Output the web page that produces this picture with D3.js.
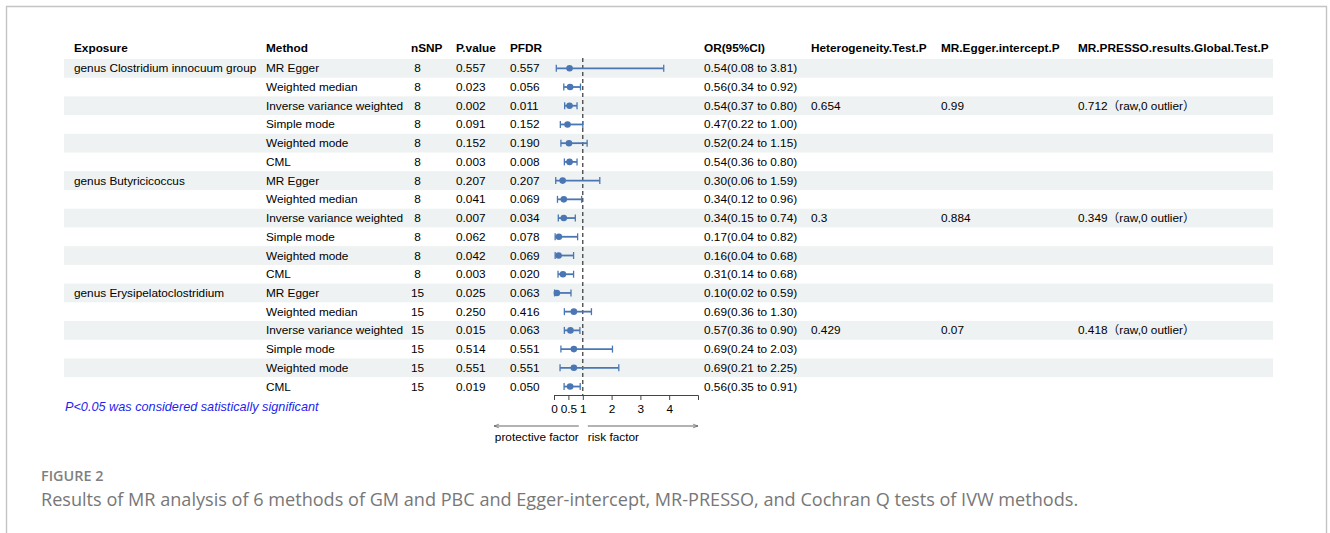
<!DOCTYPE html>
<html>
<head>
<meta charset="utf-8">
<script src="https://cdn.jsdelivr.net/npm/d3@7"></script>
<style>
  body { margin: 0; background: #fff; }
  svg text { font-family: "Liberation Sans", Arial, "Noto Sans CJK SC", sans-serif; white-space: pre; }
</style>
</head>
<body>
<svg id="chart" width="1330" height="533"></svg>
<script>
// data
const exposures = ["genus Clostridium innocuum group", "genus Butyricicoccus", "genus Erysipelatoclostridium"];
const methods = ["MR Egger", "Weighted median", "Inverse variance weighted", "Simple mode", "Weighted mode", "CML"];
const nsnp = [8, 8, 8, 8, 8, 8, 8, 8, 8, 8, 8, 8, 15, 15, 15, 15, 15, 15];
const pValue = ["0.557", "0.023", "0.002", "0.091", "0.152", "0.003",
                "0.207", "0.041", "0.007", "0.062", "0.042", "0.003",
                "0.025", "0.250", "0.015", "0.514", "0.551", "0.019"];
const pFdr = ["0.557", "0.056", "0.011", "0.152", "0.190", "0.008",
              "0.207", "0.069", "0.034", "0.078", "0.069", "0.020",
              "0.063", "0.416", "0.063", "0.551", "0.551", "0.050"];
const orVal = [0.54, 0.56, 0.54, 0.47, 0.52, 0.54, 0.30, 0.34, 0.34, 0.17, 0.16, 0.31, 0.10, 0.69, 0.57, 0.69, 0.69, 0.56];
const orLow = [0.08, 0.34, 0.37, 0.22, 0.24, 0.36, 0.06, 0.12, 0.15, 0.04, 0.04, 0.14, 0.02, 0.36, 0.36, 0.24, 0.21, 0.35];
const orHigh = [3.81, 0.92, 0.80, 1.00, 1.15, 0.80, 1.59, 0.96, 0.74, 0.82, 0.68, 0.68, 0.59, 1.30, 0.90, 2.03, 2.25, 0.91];
const heteroP = ["0.654", "0.3", "0.429"];
const eggerP = ["0.99", "0.884", "0.07"];
const pressoP = ["0.712（raw,0 outlier）", "0.349（raw,0 outlier）", "0.418（raw,0 outlier）"];
const axisTicks = [0, 0.5, 1, 2, 3, 4];

const rows = [];
exposures.forEach((e, g) => {
    methods.forEach((m, k) => {
        const i = g * methods.length + k;
        rows.push({
            exposure: k === 0 ? e : "",
            method: m,
            nsnp: String(nsnp[i]).padStart(2, " "),
            p: pValue[i],
            pfdr: pFdr[i],
            or: orVal[i], lo: orLow[i], hi: orHigh[i],
            hetero: k === 2 ? heteroP[g] : "",
            egger: k === 2 ? eggerP[g] : "",
            presso: k === 2 ? pressoP[g] : ""
        });
    });
});

const svg = d3.select("#chart");
const fs = 11.8;
const rowH = 18.72;
const firstY = 68.3;
const y = i => firstY + i * rowH;

// frame
svg.append("path")
    .attr("d", "M6.5,540 V6.5 H1326.5 V540")
    .attr("fill", "none")
    .attr("stroke", "#c4c4c4")
    .attr("stroke-width", 1.4);

// columns
const cols = [
    { key: "exposure", title: "Exposure", x: 74 },
    { key: "method", title: "Method", x: 266 },
    { key: "nsnp", title: "nSNP", x: 411 },
    { key: "p", title: "P.value", x: 456 },
    { key: "pfdr", title: "PFDR", x: 510 },
    { key: "ortext", title: "OR(95%CI)", x: 704 },
    { key: "hetero", title: "Heterogeneity.Test.P", x: 811 },
    { key: "egger", title: "MR.Egger.intercept.P", x: 941 },
    { key: "presso", title: "MR.PRESSO.results.Global.Test.P", x: 1078 }
];
rows.forEach(r => { r.ortext = `${r.or.toFixed(2)}(${r.lo.toFixed(2)} to ${r.hi.toFixed(2)})`; });

// zebra bands
svg.append("g").selectAll("rect")
    .data(rows.filter((d, i) => i % 2 === 0))
    .enter().append("rect")
    .attr("x", 64)
    .attr("y", (d, i) => y(i * 2) - rowH / 2)
    .attr("width", 1273 - 64)
    .attr("height", rowH)
    .attr("fill", "#eff2f2");

// header
svg.append("g").selectAll("text")
    .data(cols)
    .enter().append("text")
    .attr("x", d => d.x)
    .attr("y", 48 + 4)
    .attr("font-size", fs)
    .attr("font-weight", "bold")
    .attr("fill", "#000")
    .text(d => d.title);

// cells
const body = svg.append("g");
cols.forEach(c => {
    const t = body.append("g").selectAll("text")
        .data(rows)
        .enter().append("text")
        .attr("x", c.x)
        .attr("y", (d, i) => y(i) + 4)
        .attr("font-size", fs)
        .attr("fill", "#000");
    if (c.key === "presso") {
        // full-width brackets from the CJK font
        t.each(function(d) {
            if (!d.presso) return;
            const m = d.presso.match(/^([^（]*)（(.*)）$/);
            const el = d3.select(this);
            el.append("tspan").text(m[1]);
            el.append("tspan").style("font-family", "'Noto Sans CJK SC'").text("（");
            el.append("tspan").text(m[2]);
            el.append("tspan").style("font-family", "'Noto Sans CJK SC'").text("）");
        });
    } else {
        t.text(d => d[c.key]);
    }
});

// forest panel
const x = d3.scaleLinear().domain([0, 5]).range([554, 698]);
const axisY = 395;

svg.append("line")
    .attr("x1", x(1)).attr("x2", x(1))
    .attr("y1", 58).attr("y2", axisY)
    .attr("stroke", "#222")
    .attr("stroke-width", 1.1)
    .attr("stroke-dasharray", "4,3");

const blue = "#4a77b4";
const ci = svg.append("g").selectAll("g")
    .data(rows)
    .enter().append("g")
    .attr("transform", (d, i) => `translate(0,${y(i)})`);

ci.append("line")
    .attr("x1", d => x(d.lo)).attr("x2", d => x(d.hi))
    .attr("stroke", blue).attr("stroke-width", 1.8);
ci.append("line")
    .attr("x1", d => x(d.lo)).attr("x2", d => x(d.lo))
    .attr("y1", -3.5).attr("y2", 3.5)
    .attr("stroke", blue).attr("stroke-width", 1.3);
ci.append("line")
    .attr("x1", d => x(d.hi)).attr("x2", d => x(d.hi))
    .attr("y1", -3.5).attr("y2", 3.5)
    .attr("stroke", blue).attr("stroke-width", 1.3);
ci.append("circle")
    .attr("cx", d => x(d.or))
    .attr("r", 3.3)
    .attr("fill", blue);

// x axis
const axisG = svg.append("g")
    .attr("transform", `translate(0,${axisY})`)
    .call(d3.axisBottom(x).tickValues(axisTicks).tickFormat(d3.format("")).tickSizeOuter(0).tickSize(5).tickPadding(5));
axisG.select(".domain").attr("stroke", "#444");
axisG.selectAll(".tick line").attr("stroke", "#444");
axisG.selectAll("text")
    .attr("font-size", fs)
    .attr("fill", "#000");

// direction arrows
const defs = svg.append("defs");
defs.append("marker")
    .attr("id", "arr")
    .attr("viewBox", "0 0 10 10")
    .attr("refX", 9).attr("refY", 5)
    .attr("markerWidth", 7).attr("markerHeight", 7)
    .attr("orient", "auto-start-reverse")
    .append("path")
    .attr("d", "M1,2 L9,5 L1,8")
    .attr("fill", "none")
    .attr("stroke", "#555")
    .attr("stroke-width", 1);

const arrowY = 426;
svg.append("line")
    .attr("x1", x(1) - 4).attr("x2", 494)
    .attr("y1", arrowY).attr("y2", arrowY)
    .attr("stroke", "#555").attr("stroke-width", 0.9)
    .attr("marker-end", "url(#arr)");
svg.append("line")
    .attr("x1", x(1) + 5).attr("x2", x(5))
    .attr("y1", arrowY).attr("y2", arrowY)
    .attr("stroke", "#555").attr("stroke-width", 0.9)
    .attr("marker-end", "url(#arr)");
svg.append("text")
    .attr("x", x(1) - 4).attr("y", 441)
    .attr("text-anchor", "end")
    .attr("font-size", fs)
    .text("protective factor");
svg.append("text")
    .attr("x", x(1) + 5).attr("y", 441)
    .attr("font-size", fs)
    .text("risk factor");

// footnote
svg.append("text")
    .attr("x", 65).attr("y", 411)
    .attr("font-size", 12.7)
    .attr("font-style", "italic")
    .attr("fill", "#1f1fee")
    .text("P<0.05 was considered satistically significant");

// caption
svg.append("text")
    .attr("x", 41).attr("y", 481)
    .style("font-family", "'Open Sans', sans-serif")
    .attr("font-size", 14.4)
    .attr("font-weight", 600)
    .attr("fill", "#7f7f7f")
    .text("FIGURE 2");
svg.append("text")
    .attr("x", 41).attr("y", 506)
    .style("font-family", "'Open Sans', sans-serif")
    .attr("font-size", 18.1)
    .attr("fill", "#777")
    .text("Results of MR analysis of 6 methods of GM and PBC and Egger-intercept, MR-PRESSO, and Cochran Q tests of IVW methods.");
</script>
</body>
</html>
